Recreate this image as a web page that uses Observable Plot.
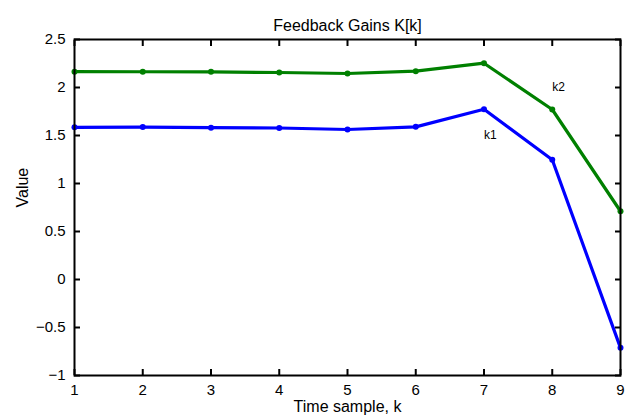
<!DOCTYPE html>
<html>
<head>
<meta charset="utf-8">
<script src="https://cdn.jsdelivr.net/npm/d3@7"></script>
<script src="https://cdn.jsdelivr.net/npm/@observablehq/plot@0.6"></script>
<style>
  html, body { margin: 0; padding: 0; background: #fff; }
  svg { display: block; }
</style>
</head>
<body>
<div id="chart"></div>
<script>
const title = "Feedback Gains K[k]";
const xLabel = "Time sample, k";
const yLabel = "Value";
const samples = [1, 2, 3, 4, 5, 6, 7, 8, 9];
const k1 = [1.585, 1.588, 1.582, 1.578, 1.5625, 1.59, 1.774, 1.247, -0.712];
const k2 = [2.165, 2.164, 2.163, 2.156, 2.146, 2.17, 2.253, 1.771, 0.711];
const xTicks = [1, 2, 3, 4, 5, 6, 7, 8, 9];
const yTicks = [-1, -0.5, 0, 0.5, 1, 1.5, 2, 2.5];
const annotations = [
  {x: 7, y: 1.5, label: "k1"},
  {x: 8, y: 2.0, label: "k2"}
];

const s1 = samples.map((k, i) => ({k, v: k1[i]}));
const s2 = samples.map((k, i) => ({k, v: k2[i]}));
const fmt = d3.format("");

const W = 626, H = 419, ML = 74, MR = 6, MT = 39, MB = 44, TL = 6;

const chart = Plot.plot({
  width: W,
  height: H,
  marginLeft: ML,
  marginRight: MR,
  marginTop: MT,
  marginBottom: MB,
  style: {fontFamily: "'Liberation Sans', Arial, Helvetica, sans-serif", fontSize: "15px", color: "black", background: "white"},
  x: {domain: [1, 9], axis: null},
  y: {domain: [-1, 2.5], axis: null},
  marks: [
    Plot.line(s2, {x: "k", y: "v", stroke: "#008000", strokeWidth: 3.2}),
    Plot.dot(s2, {x: "k", y: "v", fill: "#008000", r: 3}),
    Plot.line(s1, {x: "k", y: "v", stroke: "#0000ff", strokeWidth: 3.2}),
    Plot.dot(s1, {x: "k", y: "v", fill: "#0000ff", r: 3}),
    Plot.text(annotations, {x: "x", y: "y", text: "label", textAnchor: "start", fontSize: 12, fill: "black"}),
    // inward ticks on all four sides (axis marks, ticks only)
    Plot.axisX(xTicks, {anchor: "bottom", tickSize: TL, dy: -TL, stroke: "black", strokeWidth: 2, text: null, label: null}),
    Plot.axisX(xTicks, {anchor: "top", tickSize: TL, dy: TL, stroke: "black", strokeWidth: 2, text: null, label: null}),
    Plot.axisY(yTicks, {anchor: "left", tickSize: TL, dx: TL, stroke: "black", strokeWidth: 2, text: null, label: null}),
    Plot.axisY(yTicks, {anchor: "right", tickSize: TL, dx: -TL, stroke: "black", strokeWidth: 2, text: null, label: null}),
    // tick labels
    Plot.text(xTicks, {x: d => d, text: fmt, frameAnchor: "bottom", lineAnchor: "top", dy: 9, fontSize: 15, fill: "black"}),
    Plot.text(yTicks, {y: d => d, text: fmt, frameAnchor: "left", textAnchor: "end", dx: -9, fontSize: 15, fill: "black"}),
    Plot.frame({stroke: "black", strokeWidth: 2}),
    Plot.text([title], {frameAnchor: "top", dy: -20, fontSize: 16, fill: "black"}),
    Plot.text([xLabel], {frameAnchor: "bottom", dy: 36, fontSize: 16, fill: "black"}),
    Plot.text([yLabel], {frameAnchor: "left", dx: -52, rotate: -90, fontSize: 16, fill: "black"})
  ]
});
document.getElementById("chart").appendChild(chart);
</script>
</body>
</html>
